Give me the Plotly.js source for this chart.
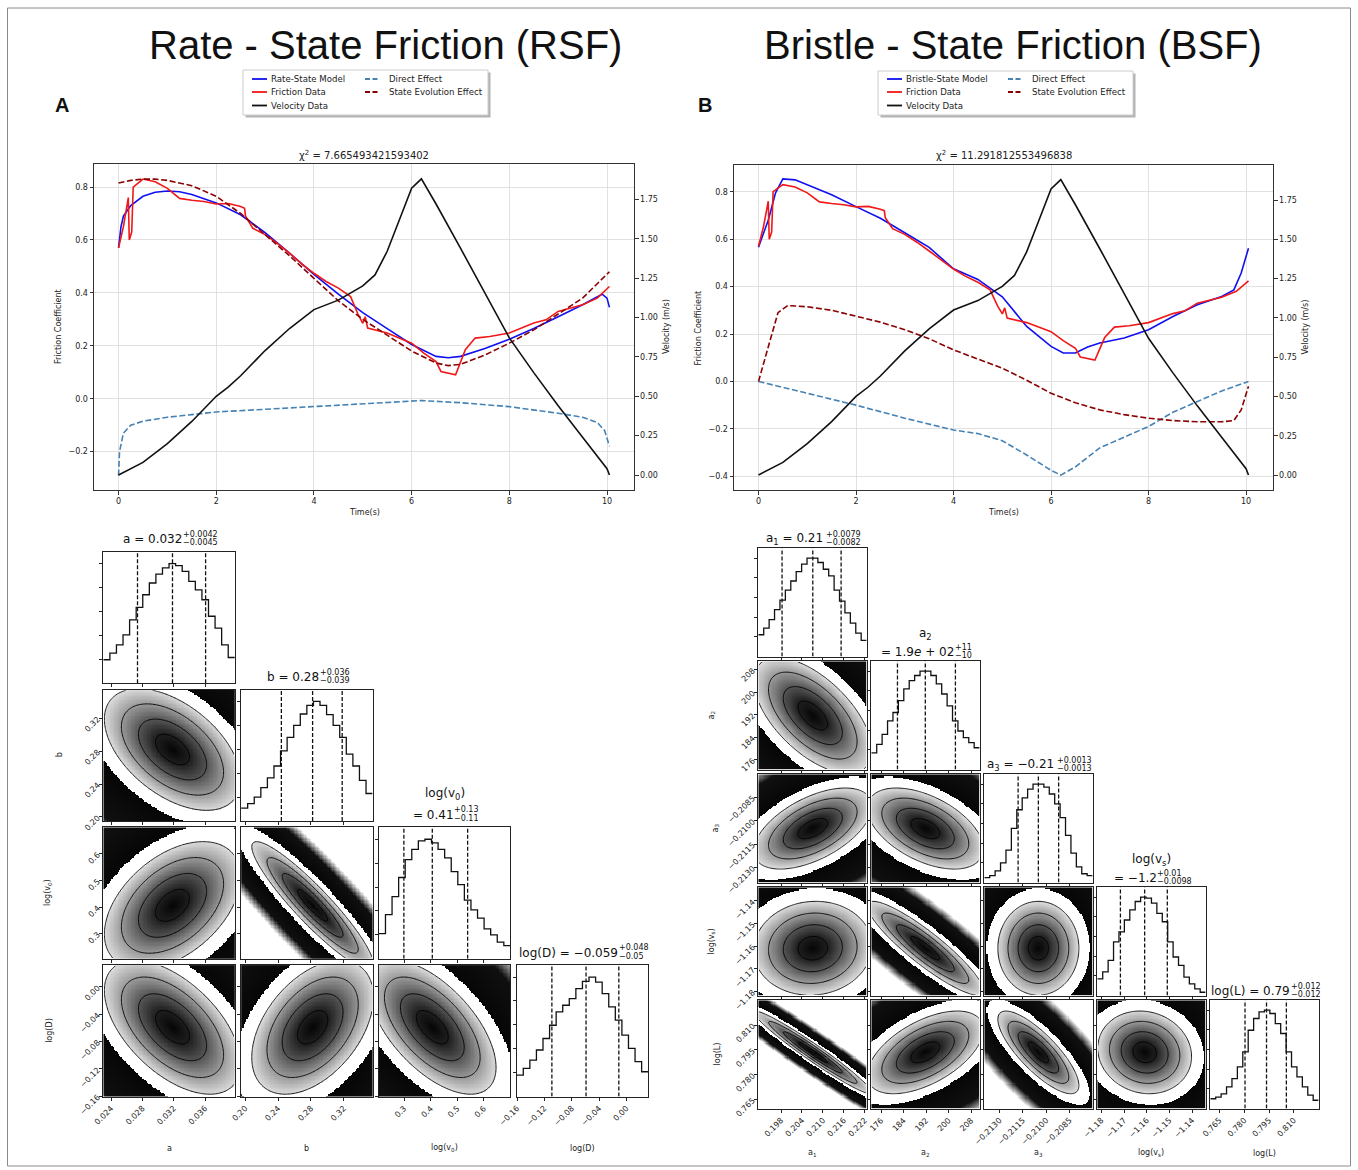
<!DOCTYPE html>
<html><head><meta charset="utf-8">
<script src="https://cdn.plot.ly/plotly-3.0.1.min.js"></script>
<style>html,body{margin:0;padding:0;background:#fff;}#chart{width:1358px;height:1170px;}</style>
</head><body><div id="chart"></div>
<script>
// ================= DATA =================
// --- top panels (shared experiment data) ---
const timeVelocity = [0,0.5,1,1.5,2,2.25,2.5,3,3.5,4,4.5,5,5.25,5.5,5.75,6,6.2,6.5,7,7.5,8,8.5,9,9.5,10,10.05];
const velocityData = [0,0.08,0.2,0.34,0.5,0.56,0.63,0.79,0.93,1.05,1.11,1.2,1.27,1.42,1.62,1.82,1.88,1.72,1.44,1.15,0.87,0.65,0.44,0.24,0.04,0];
const timeFriction = [0,0.1,0.2,0.22,0.27,0.3,0.5,0.75,1,1.25,1.5,1.75,2,2.25,2.5,2.58,2.6,2.75,3,3.25,3.5,3.75,4,4.25,4.5,4.75,4.9,5,5.05,5.1,5.5,6,6.25,6.5,6.6,6.9,7.1,7.3,7.6,8,8.5,8.75,9,9.5,9.8,10.05];
const frictionData = [0.57,0.65,0.76,0.6,0.63,0.8,0.83,0.82,0.795,0.757,0.75,0.745,0.736,0.738,0.726,0.72,0.69,0.644,0.62,0.587,0.55,0.51,0.474,0.443,0.418,0.386,0.32,0.285,0.31,0.267,0.248,0.21,0.172,0.14,0.103,0.09,0.185,0.229,0.235,0.248,0.286,0.298,0.33,0.355,0.38,0.424];

// RSF fit
const timeRsfModel = [0,0.05,0.1,0.25,0.5,0.75,1,1.25,1.5,2,2.5,3,3.5,4,4.5,5,5.5,6,6.5,6.75,7,7.5,8,8.5,9,9.5,9.9,10,10.05];
const rsfModel = [0.57,0.65,0.69,0.73,0.765,0.78,0.785,0.782,0.772,0.74,0.695,0.628,0.55,0.47,0.395,0.325,0.265,0.205,0.16,0.155,0.16,0.19,0.225,0.265,0.31,0.355,0.395,0.38,0.345];
const timeRsfDirect = [0,0.02,0.1,0.25,0.5,1,1.5,2,3,4,5,6,6.2,7,8,9,9.5,9.8,9.95,10.05];
const rsfDirect = [-0.29,-0.2,-0.13,-0.1,-0.085,-0.07,-0.06,-0.05,-0.04,-0.03,-0.02,-0.008,-0.007,-0.015,-0.03,-0.055,-0.07,-0.09,-0.12,-0.18];
const timeRsfState = [0,0.25,0.5,0.75,1,1.5,2,2.5,3,3.5,4,4.5,5,5.5,6,6.5,6.75,7,7.5,8,8.5,9,9.5,10.05];
const rsfState = [0.815,0.825,0.83,0.83,0.825,0.805,0.765,0.7,0.62,0.54,0.455,0.37,0.3,0.24,0.18,0.135,0.125,0.13,0.165,0.21,0.26,0.32,0.38,0.48];

// BSF fit
const timeBsfModel = [0,0.2,0.35,0.5,0.75,1,1.5,2,2.5,3,3.5,4,4.5,5,5.5,6,6.25,6.5,6.75,7,7.5,8,8.5,9,9.5,9.75,9.9,10.05];
const bsfModel = [0.566,0.68,0.795,0.854,0.85,0.83,0.787,0.737,0.688,0.627,0.565,0.475,0.43,0.357,0.232,0.148,0.12,0.12,0.145,0.162,0.183,0.218,0.274,0.323,0.358,0.386,0.457,0.562];
const timeBsfDirect = [0,1,2,3,4,4.5,5,5.5,6,6.2,6.5,7,7.5,8,8.5,9,9.5,10.05];
const bsfDirect = [0,-0.05,-0.1,-0.155,-0.205,-0.22,-0.25,-0.31,-0.375,-0.395,-0.36,-0.28,-0.235,-0.19,-0.13,-0.085,-0.04,0];
const timeBsfState = [0,0.2,0.4,0.6,1,1.5,2,2.5,3,3.5,4,4.5,5,5.5,6,6.5,7,7.5,8,8.5,9,9.5,9.75,9.9,10.05];
const bsfState = [0,0.15,0.29,0.32,0.315,0.3,0.275,0.25,0.218,0.18,0.133,0.095,0.056,0.005,-0.05,-0.09,-0.12,-0.14,-0.155,-0.165,-0.17,-0.17,-0.165,-0.12,-0.02];

const chiRsf = '7.665493421593402';
const chiBsf = '11.291812553496838';
const legendRsf = ['Rate-State Model','Friction Data','Velocity Data','Direct Effect','State Evolution Effect'];
const legendBsf = ['Bristle-State Model','Friction Data','Velocity Data','Direct Effect','State Evolution Effect'];

// --- corner plot RSF ---
const rsfNames = ['a','b','log(v<sub>0</sub>)','log(D)'];
const rsfRange = [[0.0230,0.0398],[0.195,0.355],[0.205,0.700],[-0.1605,0.032]];
const rsfQ16 = [0.02737,0.244,0.299,-0.109];
const rsfQ50 = [0.03184,0.282,0.406,-0.059];
const rsfQ84 = [0.03607,0.318,0.539,-0.011];
const rsfCorr = [[1,-0.5,0.45,-0.55],[-0.5,1,-0.92,0.45],[0.45,-0.92,1,-0.6],[-0.55,0.45,-0.6,1]];
const rsfHist = [
  [0.196,0.251,0.32,0.405,0.53,0.634,0.74,0.838,0.913,0.964,1.0,0.983,0.936,0.852,0.78,0.698,0.56,0.46,0.32,0.215],
  [0.107,0.146,0.2,0.28,0.36,0.46,0.587,0.70,0.80,0.895,0.967,1.0,0.967,0.89,0.8,0.70,0.56,0.46,0.34,0.23],
  [0.21,0.37,0.52,0.68,0.83,0.915,0.986,1.0,0.97,0.915,0.845,0.73,0.62,0.49,0.41,0.34,0.25,0.2,0.14,0.11],
  [0.18,0.236,0.305,0.39,0.486,0.597,0.708,0.764,0.82,0.903,0.964,1.0,0.958,0.861,0.75,0.639,0.514,0.403,0.292,0.208]
];
const rsfTicks = [[0.024,0.028,0.032,0.036],[0.20,0.24,0.28,0.32],[0.3,0.4,0.5,0.6],[-0.16,-0.12,-0.08,-0.04,0.00]];
const rsfTickText = [['0.024','0.028','0.032','0.036'],['0.20','0.24','0.28','0.32'],['0.3','0.4','0.5','0.6'],['\u22120.16','\u22120.12','\u22120.08','\u22120.04','0.00']];
const rsfTitleVal = ['0.032','0.28','0.41','\u22120.059'];
const rsfTitlePlus = ['+0.0042','+0.036','+0.13','+0.048'];
const rsfTitleMinus = ['\u22120.0045','\u22120.039','\u22120.11','\u22120.05'];
const rsfTwoLine = [false,false,true,false];

// --- corner plot BSF ---
const bsfNames = ['a<sub>1</sub>','a<sub>2</sub>','a<sub>3</sub>','log(v<sub>s</sub>)','log(L)'];
const bsfRange = [[0.1915,0.2225],[172.5,211],[-0.21397,-0.20702],[-1.1818,-1.134],[0.7595,0.825]];
const bsfQ16 = [0.1983,181.8,-0.2118,-1.1716,0.7805];
const bsfQ50 = [0.2071,191.7,-0.2105,-1.1609,0.7935];
const bsfQ84 = [0.2152,202.4,-0.2092,-1.1509,0.8055];
const bsfCorr = [[1,-0.6,0.55,0.05,-0.97],[-0.6,1,-0.5,-0.9,0.55],[0.55,-0.5,1,0.0,-0.8],[0.05,-0.9,0.0,1,-0.1],[-0.97,0.55,-0.8,-0.1,1]];
const bsfHist = [
  [0.222,0.29,0.375,0.478,0.573,0.676,0.768,0.863,0.939,1.0,1.0,0.956,0.887,0.819,0.676,0.563,0.444,0.341,0.239,0.164],
  [0.17,0.256,0.358,0.495,0.58,0.7,0.82,0.904,0.956,1.0,1.0,0.956,0.87,0.768,0.648,0.495,0.392,0.324,0.273,0.222],
  [0.05,0.07,0.12,0.2,0.33,0.55,0.74,0.86,0.95,1.0,1.0,0.97,0.9,0.8,0.66,0.48,0.3,0.16,0.09,0.07],
  [0.17,0.24,0.358,0.546,0.648,0.768,0.87,0.956,1.0,0.99,0.939,0.836,0.75,0.546,0.392,0.307,0.188,0.119,0.068,0.034],
  [0.1,0.117,0.15,0.22,0.305,0.424,0.576,0.796,0.915,0.983,1.0,0.966,0.864,0.763,0.576,0.424,0.322,0.22,0.136,0.085]
];
const bsfTicks = [[0.198,0.204,0.210,0.216,0.222],[176,184,192,200,208],[-0.2130,-0.2115,-0.2100,-0.2085],[-1.18,-1.17,-1.16,-1.15,-1.14],[0.765,0.780,0.795,0.810]];
const bsfTickText = [['0.198','0.204','0.210','0.216','0.222'],['176','184','192','200','208'],['\u22120.2130','\u22120.2115','\u22120.2100','\u22120.2085'],['\u22121.18','\u22121.17','\u22121.16','\u22121.15','\u22121.14'],['0.765','0.780','0.795','0.810']];
const bsfTitleVal = ['0.21','1.9<i>e</i> + 02','\u22120.21','\u22121.2','0.79'];
const bsfTitlePlus = ['+0.0079','+11','+0.0013','+0.01','+0.012'];
const bsfTitleMinus = ['\u22120.0082','\u221210','\u22120.0013','\u22120.0098','\u22120.012'];
const bsfTwoLine = [false,true,false,true,false];

// ================= LAYOUT HELPERS =================
const W = 1358, H = 1170;
const fx = p => p / W;
const fy = p => 1 - p / H;
const FONT = 'DejaVu Sans';
const TXT = '#222';
const COL = {model:'#1010f0', fric:'#f01818', vel:'#111111', direct:'#4682b4', state:'#8b0000'};

const layout = {
  width: W, height: H, margin: {l:0, r:0, t:0, b:0},
  paper_bgcolor: '#ffffff', plot_bgcolor: '#ffffff', showlegend: false,
  font: {family: FONT, size: 8, color: TXT},
  shapes: [], annotations: []
};
const traces = [];

function ann(x, y, text, opts) {
  layout.annotations.push(Object.assign({
    xref:'paper', yref:'paper', x: fx(x), y: fy(y), text: text, showarrow: false,
    xanchor:'center', yanchor:'middle', borderpad: 0,
    font: {family: FONT, size: 8, color: TXT}
  }, opts || {}));
}

const ctx = document.createElement('canvas').getContext('2d');
function textW(s, size) {
  ctx.font = size + 'px "DejaVu Sans"';
  return ctx.measureText(s.replace(/<[^>]+>/g, '')).width;
}

// ================= TOP LINE CHARTS =================
const frameStyle = {showline:true, mirror:true, linecolor:'#333', linewidth:1, ticks:'outside', ticklen:3.5, tickwidth:1, tickcolor:'#333', zeroline:false, tickfont:{family:FONT, size:8, color:TXT}};

function topChart(xi, yi, yi2, box, yRange, y2Range, model, tModel, direct, tDirect, state, tState, chi) {
  const xn = xi === 1 ? 'xaxis' : 'xaxis' + xi;
  const xr = xi === 1 ? 'x' : 'x' + xi;
  const yn = yi === 1 ? 'yaxis' : 'yaxis' + yi;
  const yr = yi === 1 ? 'y' : 'y' + yi;
  layout[xn] = Object.assign({domain:[fx(box[0]), fx(box[1])], anchor: yr, range:[-0.5025, 10.5525], tick0:0, dtick:2, showgrid:true, gridcolor:'#dadada', gridwidth:0.8}, frameStyle);
  layout[yn] = Object.assign({domain:[fy(box[3]), fy(box[2])], anchor: xr, range: yRange, tick0:0, dtick:0.2, tickformat:'.1f', showgrid:true, gridcolor:'#dadada', gridwidth:0.8}, frameStyle);
  layout['yaxis' + yi2] = Object.assign({overlaying: yr, anchor: xr, side:'right', range: y2Range, tick0:0, dtick:0.25, tickformat:'.2f', showgrid:false}, frameStyle, {mirror:false});
  const common = {type:'scatter', mode:'lines', xaxis: xr, yaxis: yr, hoverinfo:'skip'};
  traces.push(Object.assign({}, common, {x: tModel, y: model, line:{color:COL.model, width:1.6}}));
  traces.push(Object.assign({}, common, {x: timeFriction, y: frictionData, line:{color:COL.fric, width:1.6}}));
  traces.push(Object.assign({}, common, {x: tDirect, y: direct, line:{color:COL.direct, width:1.6, dash:'6px,2.6px'}}));
  traces.push(Object.assign({}, common, {x: tState, y: state, line:{color:COL.state, width:1.6, dash:'6px,2.6px'}}));
  traces.push(Object.assign({}, common, {x: timeVelocity, y: velocityData, yaxis: 'y' + yi2, line:{color:COL.vel, width:1.6}}));
  const cx = (box[0] + box[1]) / 2;
  ann(cx, 155, '\u03c7<sup>2</sup> = ' + chi, {font:{family:FONT, size:10, color:TXT}});
  ann(cx, 512.5, 'Time(s)');
  ann(box[0] - 36, (box[2] + box[3]) / 2, 'Friction Coefficient', {textangle:-90});
  ann(box[1] + 32, (box[2] + box[3]) / 2, 'Velocity (m/s)', {textangle:-90});
}

topChart(1, 1, 2, [94, 634, 164, 490], [-0.345, 0.887], [-0.095, 1.974], rsfModel, timeRsfModel, rsfDirect, timeRsfDirect, rsfState, timeRsfState, chiRsf);
topChart(2, 3, 4, [734, 1273, 165, 490], [-0.4578, 0.9126], [-0.0955, 1.973], bsfModel, timeBsfModel, bsfDirect, timeBsfDirect, bsfState, timeBsfState, chiBsf);

// ---------- legends (drawn manually, matplotlib style, 2 columns) ----------
function legend(box, rowsY, c1Line, c1Text, c2Line, c2Text, labels) {
  layout.shapes.push({type:'rect', xref:'paper', yref:'paper', x0:fx(box[0]+2.5), x1:fx(box[1]+2.5), y0:fy(box[3]+2.5), y1:fy(box[2]+2.5), fillcolor:'#b4b4b4', line:{width:0}, layer:'above'});
  layout.shapes.push({type:'rect', xref:'paper', yref:'paper', x0:fx(box[0]), x1:fx(box[1]), y0:fy(box[3]), y1:fy(box[2]), fillcolor:'#ffffff', line:{color:'#cccccc', width:1}, layer:'above'});
  const styles = [
    {color:COL.model, dash:'solid', col:0, row:0},
    {color:COL.fric, dash:'solid', col:0, row:1},
    {color:COL.vel, dash:'solid', col:0, row:2},
    {color:COL.direct, dash:'5px,2.5px', col:1, row:0},
    {color:COL.state, dash:'5px,2.5px', col:1, row:1}
  ];
  styles.forEach((s, k) => {
    const lx = s.col === 0 ? c1Line : c2Line;
    const tx = s.col === 0 ? c1Text : c2Text;
    const y = rowsY[s.row];
    layout.shapes.push({type:'line', xref:'paper', yref:'paper', x0:fx(lx[0]), x1:fx(lx[1]), y0:fy(y), y1:fy(y), line:{color:s.color, width:1.8, dash:s.dash}, layer:'above'});
    ann(tx, y, labels[k], {xanchor:'left', font:{family:FONT, size:8.6, color:TXT}});
  });
}
legend([243, 488, 70, 115], [79, 92, 105.5], [252, 267], 270, [365, 380], 388, legendRsf);
legend([878, 1133, 71, 115], [79, 92, 105.5], [887, 902], 905, [1008, 1023], 1031, legendBsf);

// ================= CORNER PLOTS =================
// colour as a function of the Mahalanobis radius r (zmin 0, zmax 6)
const densityScale = [
  [0,'#050505'],[0.0833,'#1e1e1e'],[0.1667,'#555555'],[0.25,'#9a9a9a'],[0.3333,'#dddddd'],
  [0.3333,'#ffffff'],[0.425,'#ffffff'],[0.425,'#060606'],[0.70,'#101010'],[0.86,'#ffffff'],[1,'#ffffff']
];
const cornerAxis = {showline:true, mirror:true, linecolor:'#222', linewidth:1, ticks:'outside', ticklen:3, tickwidth:1, tickcolor:'#222', zeroline:false, showgrid:false, tickfont:{family:FONT, size:8, color:TXT}};

let xCount = 2, yCount = 4;
function addPanel(xdom, ydom, xa, ya) {
  xCount++; yCount++;
  const xr = 'x' + xCount, yr = 'y' + yCount;
  layout['xaxis' + xCount] = Object.assign({domain: xdom, anchor: yr}, cornerAxis, xa);
  layout['yaxis' + yCount] = Object.assign({domain: ydom, anchor: xr}, cornerAxis, ya);
  return {x: xr, y: yr};
}

function corner(cfg) {
  const n = cfg.range.length;
  const sig = cfg.q16.map((v, k) => (cfg.q84[k] - v) / 2);
  for (let i = 0; i < n; i++) {
    for (let j = 0; j <= i; j++) {
      const left = cfg.left0 + j * cfg.pitch, top = cfg.top0 + i * cfg.pitch;
      const xdom = [fx(left), fx(left + cfg.size)], ydom = [fy(top + cfg.size), fy(top)];
      const xa = {range: cfg.range[j], tickvals: cfg.ticks[j], ticktext: cfg.tickText[j], showticklabels: i === n - 1, tickangle: -45};
      let ya;
      if (i === j) {
        ya = {range:[0, 1.1], tickvals:[0.2,0.4,0.6,0.8,1.0], showticklabels:false};
      } else {
        ya = {range: cfg.range[i], tickvals: cfg.ticks[i], ticktext: cfg.tickText[i], showticklabels: j === 0, tickangle: -45};
      }
      const ax = addPanel(xdom, ydom, xa, ya);
      if (i === j) {
        const lo = cfg.range[j][0], hi = cfg.range[j][1];
        const h = cfg.hist[j];
        const edges = h.map((_, k) => lo + k * (hi - lo) / h.length).concat([hi]);
        traces.push({type:'scatter', mode:'lines', x: edges, y: h.concat([h[h.length - 1]]), line:{shape:'hv', color:'#111', width:1.3}, xaxis: ax.x, yaxis: ax.y, hoverinfo:'skip'});
        [cfg.q16[j], cfg.q50[j], cfg.q84[j]].forEach(q => {
          traces.push({type:'scatter', mode:'lines', x:[q, q], y:[0, 1.1], line:{color:'#111', width:1.3, dash:'4px,2px'}, xaxis: ax.x, yaxis: ax.y, hoverinfo:'skip'});
        });
      } else {
        const N = 100;
        const xr = cfg.range[j], yrg = cfg.range[i];
        const xs = [], ys = [];
        for (let k = 0; k < N; k++) { xs.push(xr[0] + (k + 0.5) * (xr[1] - xr[0]) / N); ys.push(yrg[0] + (k + 0.5) * (yrg[1] - yrg[0]) / N); }
        const rho = cfg.corr[i][j];
        const z = ys.map(yv => xs.map(xv => {
          const dx = (xv - cfg.q50[j]) / sig[j], dy = (yv - cfg.q50[i]) / sig[i];
          return Math.sqrt((dx * dx - 2 * rho * dx * dy + dy * dy) / (1 - rho * rho));
        }));
        traces.push({type:'heatmap', x: xs, y: ys, z: z, zmin:0, zmax:6, colorscale: densityScale, showscale:false, xaxis: ax.x, yaxis: ax.y, hoverinfo:'skip'});
        traces.push({type:'contour', x: xs, y: ys, z: z, autocontour:false, contours:{start:0.5, end:2, size:0.5, coloring:'none'}, line:{color:'#000', width:0.9, smoothing:1}, showscale:false, xaxis: ax.x, yaxis: ax.y, hoverinfo:'skip'});
      }
    }
    // titles above diagonal panels
    const cx = cfg.left0 + i * cfg.pitch + cfg.size / 2;
    const top = cfg.top0 + i * cfg.pitch;
    const yMain = top - cfg.titleOff;
    const mainTxt = (cfg.twoLine[i] ? '' : cfg.names[i] + ' ') + '= ' + cfg.val[i];
    if (cfg.twoLine[i]) ann(cx, top - cfg.titleOff2, cfg.names[i], {font:{family:FONT, size:12, color:'#111'}});
    const wM = textW(mainTxt, 12);
    const wS = Math.max(textW(cfg.plus[i], 8), textW(cfg.minus[i], 8));
    const x0 = cx - (wM + wS) / 2;
    ann(x0, yMain, mainTxt, {xanchor:'left', font:{family:FONT, size:12, color:'#111'}});
    ann(x0 + wM + 0.5, yMain - 5, cfg.plus[i], {xanchor:'left', font:{family:FONT, size:8, color:'#111'}});
    ann(x0 + wM + 0.5, yMain + 3.5, cfg.minus[i], {xanchor:'left', font:{family:FONT, size:8, color:'#111'}});
    // axis labels
    ann(cx, cfg.xLabelY, cfg.names[i]);
    if (i > 0) ann(cfg.yLabelX[i], top + cfg.size / 2, cfg.names[i], {textangle:-90});
  }
}

corner({range: rsfRange, q16: rsfQ16, q50: rsfQ50, q84: rsfQ84, corr: rsfCorr, hist: rsfHist, ticks: rsfTicks, tickText: rsfTickText,
  names: rsfNames, val: rsfTitleVal, plus: rsfTitlePlus, minus: rsfTitleMinus, twoLine: rsfTwoLine,
  left0: 103.3, top0: 551.7, pitch: 137.8, size: 131.5, titleOff: 12.5, titleOff2: 33, xLabelY: 1148, yLabelX: [0, 59, 48, 50]});
corner({range: bsfRange, q16: bsfQ16, q50: bsfQ50, q84: bsfQ84, corr: bsfCorr, hist: bsfHist, ticks: bsfTicks, tickText: bsfTickText,
  names: bsfNames, val: bsfTitleVal, plus: bsfTitlePlus, minus: bsfTitleMinus, twoLine: bsfTwoLine,
  left0: 758.3, top0: 548.3, pitch: 113, size: 108.3, titleOff: 9, titleOff2: 27, xLabelY: 1153, yLabelX: [0, 712, 716, 712, 717]});

// ================= FIGURE TEXT & FRAME =================
ann(385, 45, 'Rate - State Friction (RSF)', {font:{family:'Liberation Sans, Arial, sans-serif', size:40, color:'#111'}});
ann(1013, 45, 'Bristle - State Friction (BSF)', {font:{family:'Liberation Sans, Arial, sans-serif', size:40, color:'#111'}});
ann(61.5, 104.5, '<b>A</b>', {font:{family:'Liberation Sans, Arial, sans-serif', size:20, color:'#111'}});
ann(705, 104.5, '<b>B</b>', {font:{family:'Liberation Sans, Arial, sans-serif', size:20, color:'#111'}});
layout.shapes.push({type:'rect', xref:'paper', yref:'paper', x0:fx(7.5), x1:fx(1350.5), y0:fy(1166), y1:fy(8), line:{color:'#8a8a8a', width:1}, fillcolor:'rgba(0,0,0,0)', layer:'above'});

Plotly.newPlot('chart', traces, layout, {staticPlot:true, displayModeBar:false});
</script></body></html>
